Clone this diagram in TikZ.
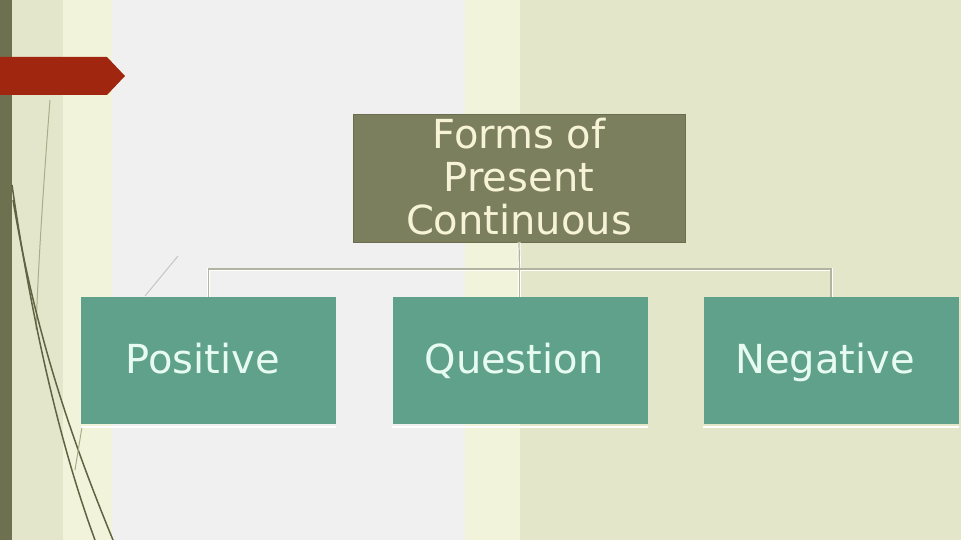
\documentclass[tikz,border=0pt]{standalone}
\usepackage{fontspec}
\setmainfont{DejaVu Sans}
\definecolor{bgbeige}{HTML}{E3E6C8}
\definecolor{bgcream}{HTML}{F1F4DA}
\definecolor{bgleft}{HTML}{E4E6CB}
\definecolor{bggrey}{HTML}{F0F0F0}
\definecolor{olivebar}{HTML}{6D7150}
\definecolor{topfill}{HTML}{7B7F5D}
\definecolor{topedge}{HTML}{6A6E4E}
\definecolor{toptext}{HTML}{F7F3D8}
\definecolor{childfill}{HTML}{5FA18A}
\definecolor{childtext}{HTML}{E8FBF2}
\definecolor{arrowred}{HTML}{A0260F}
\definecolor{connc}{HTML}{B3B4A0}
\definecolor{curvedark}{HTML}{5E6343}
\definecolor{curvelight}{HTML}{A9AD8A}
\tikzset{
  topbox/.style={rectangle, draw=topedge, line width=0.8pt, fill=topfill, minimum width=332pt, minimum height=128pt, inner sep=0pt},
  toplabel/.style={text=toptext, align=center, font=\fontsize{40}{43}\selectfont, inner sep=0pt},
  childbox/.style={rectangle, fill=childfill, minimum width=255pt, minimum height=127pt, inner sep=0pt},
  childlabel/.style={text=childtext, font=\fontsize{40}{44}\selectfont, inner sep=0pt, text height=29pt, text depth=0pt},
  connunder/.style={draw=white, line width=3pt},
  conn/.style={draw=connc, line width=1.2pt},
  boxedge/.style={draw=white, line width=1.5pt},
  darkcurve/.style={draw=curvedark, line width=1.5pt},
  lightcurve/.style={draw=curvelight, line width=1pt}
}
\begin{document}
\begin{tikzpicture}[x=1pt,y=-1pt]
  % background bands
  \fill[bgbeige] (0,0) rectangle (961,540);
  \fill[bgleft] (12,0) rectangle (63,540);
  \fill[bgcream] (63,0) rectangle (112,540);
  \fill[bggrey] (112,0) rectangle (465,540);
  \fill[bgcream] (465,0) rectangle (520,540);
  \fill[olivebar] (0,0) rectangle (12,540);
  \useasboundingbox (0,0) rectangle (961,540);
  % red arrow banner
  \fill[arrowred] (0,57) -- (107,57) -- (125,76) -- (107,95) -- (0,95) -- cycle;
  % decorative curves
  \draw[lightcurve] (50,100) .. controls (43,190) and (38,270) .. (36,330);
  \draw[darkcurve] (12,185) .. controls (30,310) and (58,440) .. (95,540);
  \draw[darkcurve] (13,200) .. controls (36,340) and (76,450) .. (113,540);
  \draw[lightcurve] (82,427) -- (75,470);
  \draw[draw=gray!45, line width=1pt] (145,296) -- (178,256);
  % nodes
  \node[topbox] (top) at (519,178) {};
  \node[toplabel] (toptitle) at ([yshift=1pt]top.center) {Forms of\\Present\\Continuous};
  \node[childbox] (pos) at (208.5,360.5) {};
  \node[childbox] (que) at (520,360.5) {};
  \node[childbox] (neg) at (831,360.5) {};
  \node[childlabel] (posl) at ([xshift=-6pt,yshift=2pt]pos.center) {Positive};
  \node[childlabel] (quel) at ([xshift=-6pt,yshift=2pt]que.center) {Question};
  \node[childlabel] (negl) at ([xshift=-6pt,yshift=2pt]neg.center) {Negative};
  \coordinate (bar) at (519.5,269);
  % box bottom edges
  \foreach \n in {pos,que,neg} {
    \draw[boxedge] ([yshift=-3pt]\n.south west) -- ([yshift=-3pt]\n.south east);
  }
  % connectors
  \draw[connunder] (top.south) -- (bar);
  \draw[connunder] (pos.north) |- (bar) -| (neg.north);
  \draw[connunder] (bar) -- (bar |- que.north);
  \draw[conn] (top.south) -- (bar);
  \draw[conn] (pos.north) |- (bar) -| (neg.north);
  \draw[conn] (bar) -- (bar |- que.north);
\end{tikzpicture}
\end{document}
